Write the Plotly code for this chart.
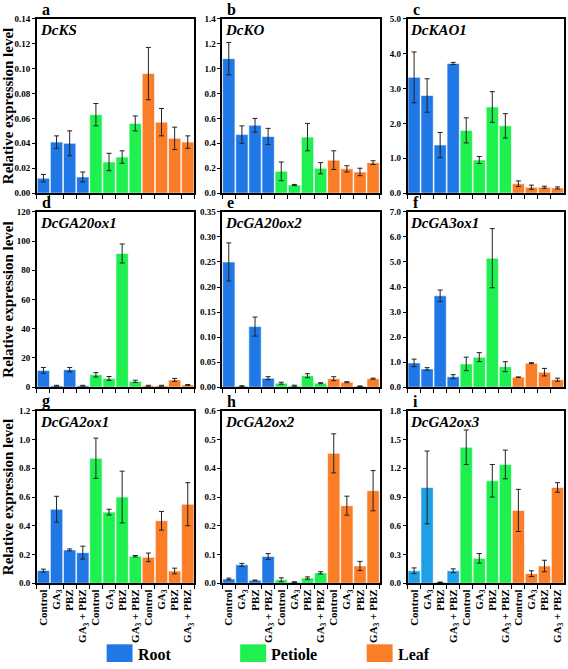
import plotly.graph_objects as go

categories = ["Control", "GA<sub>3</sub>", "PBZ", "GA<sub>3</sub> + PBZ"]
tissues = ["Root", "Petiole", "Leaf"]
tissue_colors = {"Root": "#1f78e6", "Petiole": "#1ef050", "Leaf": "#fa7d28"}

panel_letters = ["a", "b", "c", "d", "e", "f", "g", "h", "i"]
genes = ["DcKS", "DcKO", "DcKAO1", "DcGA20ox1", "DcGA20ox2", "DcGA3ox1",
         "DcGA2ox1", "DcGA2ox2", "DcGA2ox3"]

# values: Root(Control, GA3, PBZ, GA3+PBZ), Petiole(...), Leaf(...)
values = {
    "DcKS": [0.012, 0.041, 0.040, 0.013, 0.063, 0.025, 0.029, 0.056, 0.096, 0.057, 0.044, 0.041],
    "DcKO": [1.08, 0.47, 0.545, 0.455, 0.175, 0.065, 0.45, 0.20, 0.265, 0.195, 0.17, 0.245],
    "DcKAO1": [3.32, 2.80, 1.38, 3.72, 1.80, 0.95, 2.47, 1.93, 0.27, 0.17, 0.17, 0.15],
    "DcGA20ox1": [11.5, 1.0, 12.0, 1.0, 8.5, 6.0, 91.5, 4.0, 1.0, 1.0, 5.0, 1.5],
    "DcGA20ox2": [0.250, 0.002, 0.121, 0.018, 0.008, 0.003, 0.023, 0.008, 0.017, 0.010, 0.002, 0.017],
    "DcGA3ox1": [0.97, 0.73, 3.65, 0.42, 0.93, 1.20, 5.15, 0.82, 0.40, 0.96, 0.60, 0.30],
    "DcGA2ox1": [0.088, 0.515, 0.232, 0.213, 0.87, 0.495, 0.60, 0.188, 0.18, 0.435, 0.085, 0.55],
    "DcGA2ox2": [0.015, 0.064, 0.010, 0.093, 0.012, 0.004, 0.018, 0.036, 0.452, 0.270, 0.060, 0.322],
    "DcGA2ox3": [0.13, 1.00, 0.01, 0.13, 1.42, 0.26, 1.07, 1.24, 0.76, 0.10, 0.18, 1.00],
}
errors = {
    "DcKS": [0.003, 0.005, 0.010, 0.004, 0.009, 0.007, 0.005, 0.006, 0.021, 0.011, 0.009, 0.005],
    "DcKO": [0.13, 0.07, 0.055, 0.065, 0.075, 0.005, 0.11, 0.045, 0.075, 0.025, 0.03, 0.015],
    "DcKAO1": [0.73, 0.48, 0.36, 0.03, 0.36, 0.10, 0.44, 0.35, 0.08, 0.06, 0.03, 0.03],
    "DcGA20ox1": [2.0, 0.3, 1.5, 0.3, 1.5, 1.3, 6.5, 0.8, 0.3, 0.3, 1.0, 0.3],
    "DcGA20ox2": [0.038, 0.001, 0.019, 0.003, 0.002, 0.001, 0.004, 0.001, 0.004, 0.001, 0.0005, 0.001],
    "DcGA3ox1": [0.15, 0.05, 0.23, 0.08, 0.27, 0.18, 1.18, 0.20, 0.01, 0.02, 0.15, 0.06],
    "DcGA2ox1": [0.01, 0.09, 0.007, 0.045, 0.14, 0.02, 0.18, 0.005, 0.03, 0.065, 0.02, 0.15],
    "DcGA2ox2": [0.003, 0.005, 0.001, 0.010, 0.007, 0.001, 0.004, 0.004, 0.068, 0.033, 0.016, 0.070],
    "DcGA2ox3": [0.03, 0.38, 0.002, 0.02, 0.18, 0.05, 0.17, 0.15, 0.22, 0.03, 0.06, 0.05],
}
y_max = {"DcKS": 0.14, "DcKO": 1.4, "DcKAO1": 5.0, "DcGA20ox1": 120, "DcGA20ox2": 0.35,
         "DcGA3ox1": 7.0, "DcGA2ox1": 1.2, "DcGA2ox2": 0.6, "DcGA2ox3": 1.8}
y_step = {"DcKS": 0.02, "DcKO": 0.2, "DcKAO1": 1.0, "DcGA20ox1": 20, "DcGA20ox2": 0.05,
          "DcGA3ox1": 1.0, "DcGA2ox1": 0.2, "DcGA2ox2": 0.1, "DcGA2ox3": 0.3}
y_fmt = {"DcKS": ".2f", "DcKO": ".1f", "DcKAO1": ".1f", "DcGA20ox1": "d", "DcGA20ox2": ".2f",
         "DcGA3ox1": ".1f", "DcGA2ox1": ".1f", "DcGA2ox2": ".1f", "DcGA2ox3": ".1f"}

W, H = 568, 669
col_px = [(36, 194), (222, 380), (408, 565)]
row_px = [(14, 191), (210, 388), (412, 587)]

FONT = "Liberation Serif"

fig = go.Figure()
x_ids = [f"{t}|{c}" for t in tissues for c in range(4)]
tick_text = categories * 3

for k, gene in enumerate(genes):
    r, c = divmod(k, 3)
    ax = "" if k == 0 else str(k + 1)
    colors = []
    for t in tissues:
        col = tissue_colors[t]
        if gene == "DcGA2ox3" and t == "Root":
            col = "#1ea0e6"
        colors += [col] * 4
    fig.add_trace(go.Bar(
        x=x_ids, y=values[gene],
        marker=dict(color=colors, line=dict(color="white", width=0.6)),
        error_y=dict(type="data", array=errors[gene], color="#222222", thickness=1, width=2.5),
        xaxis="x" + ax, yaxis="y" + ax, showlegend=False,
    ))
    x0, x1 = col_px[c]
    y0, y1 = row_px[r]
    fig.layout["xaxis" + ax] = dict(
        domain=[x0 / W, x1 / W], anchor="y" + ax,
        type="category", tickmode="array", tickvals=x_ids,
        ticktext=tick_text if r == 2 else [""] * 12,
        showticklabels=(r == 2), tickangle=-90,
        tickfont=dict(family=FONT, size=11, color="black", weight="bold"),
        ticks="outside", tickson="boundaries", ticklen=4, tickcolor="black",
        showline=True, mirror=True, linecolor="black", linewidth=1.5,
        showgrid=False, zeroline=False,
    )
    nt = int(round(y_max[gene] / y_step[gene]))
    tv = [y_step[gene] * i for i in range(nt + 1)]
    fig.layout["yaxis" + ax] = dict(
        domain=[1 - y1 / H, 1 - y0 / H], anchor="x" + ax,
        range=[0, y_max[gene]], tickmode="array", tickvals=tv,
        tickformat=y_fmt[gene],
        tickfont=dict(family=FONT, size=9, color="black", weight="bold"),
        ticks="outside", ticklen=3, tickcolor="black",
        showline=True, mirror=True, linecolor="black", linewidth=1.5,
        showgrid=False, zeroline=False,
        title=dict(text="Relative expression level" if c == 0 else "",
                   font=dict(family=FONT, size=15, color="black", weight="bold"),
                   standoff=4),
    )
    fig.add_annotation(text=f"<b><i>{gene}</i></b>", xref=f"x{ax} domain", yref=f"y{ax} domain",
                       x=0.005, y=0.995, xanchor="left", yanchor="top", showarrow=False,
                       font=dict(family=FONT, size=15, color="black"))
    fig.add_annotation(text=f"<b>{panel_letters[k]}</b>", xref="paper", yref="paper",
                       x=(x0 + 3) / W, y=1 - (y0 + 1) / H, xanchor="left", yanchor="bottom",
                       showarrow=False, font=dict(family=FONT, size=16, color="black"))

# legend boxes
legend_px = [(106, "Root"), (240, "Petiole"), (367, "Leaf")]
for lx, name in legend_px:
    fig.add_shape(type="rect", xref="paper", yref="paper",
                  x0=lx / W, x1=(lx + 26) / W, y0=1 - 667 / H, y1=1 - 649 / H,
                  fillcolor=tissue_colors[name], line=dict(width=0))
    fig.add_annotation(text=f"<b>{name}</b>", xref="paper", yref="paper",
                       x=(lx + 29) / W, y=1 - 659 / H, xanchor="left", yanchor="middle",
                       showarrow=False, font=dict(family=FONT, size=16, color="black"))

fig.update_layout(
    width=W, height=H, margin=dict(l=0, r=0, t=0, b=0),
    paper_bgcolor="white", plot_bgcolor="white",
    bargap=0.06,
)
fig.write_html("out.html", config={"displayModeBar": False},
               post_script="document.body.style.margin='0';document.body.style.overflow='hidden';")
